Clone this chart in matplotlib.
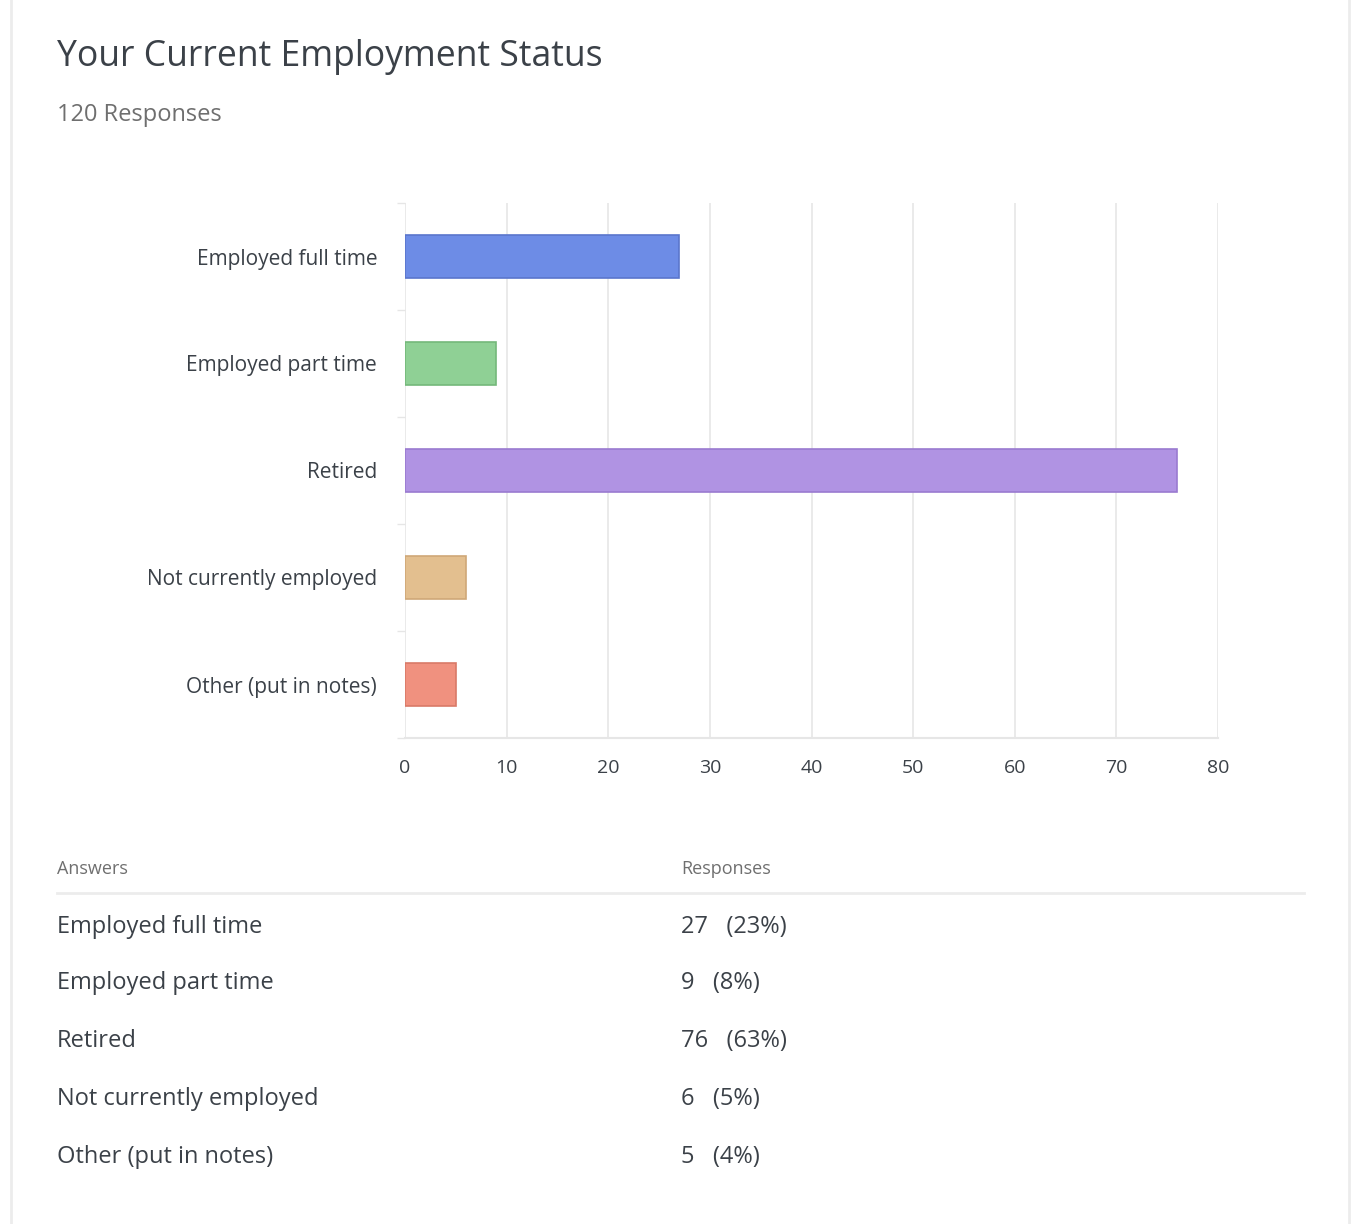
import matplotlib.pyplot as plt
from matplotlib.lines import Line2D

plt.rcParams['font.family'] = ['Open Sans', 'DejaVu Sans']

answers = ["Employed full time", "Employed part time", "Retired",
           "Not currently employed", "Other (put in notes)"]
counts = [27, 9, 76, 6, 5]
percents = ["23%", "8%", "63%", "5%", "4%"]
total_responses = 120
bar_colors = ["#6d8ce6", "#8fd095", "#b093e3", "#e3bf8f", "#f0917f"]
edge_colors = ["#5a76cc", "#74b87a", "#9a7ad0", "#cfa878", "#d97a68"]

W, H = 1351, 1224
fig = plt.figure(figsize=(W / 100, H / 100), dpi=100)
fig.patch.set_facecolor("white")

dark = "#3b4148"
grid_c = "#e6e6e6"

# card borders
for x in (11, 1349):
    fig.add_artist(Line2D([x / W, x / W], [0, 1], color="#ececec", lw=2))

fig.text(57 / W, 1 - 57 / H, "Your Current Employment Status", fontsize=25.6,
         color=dark, va="center", ha="left")
fig.text(57 / W, 1 - 115 / H, f"{total_responses} Responses", fontsize=17,
         color="#6f6f6f", va="center", ha="left")

ax = fig.add_axes([405 / W, 1 - 738 / H, (1218 - 405) / W, (738 - 203) / H])
y = list(range(len(answers)))
ax.barh(y, counts, height=0.4, color=bar_colors, edgecolor=edge_colors, lw=1.2, zorder=3)
ax.set_ylim(len(answers) - 0.5, -0.5)
ax.set_xlim(0, 80)
ax.set_xticks(range(0, 81, 10))
ax.set_yticks(y)
ax.set_yticklabels(answers, fontsize=15, color=dark)
ax.set_yticks([i - 0.5 for i in range(len(answers) + 1)], minor=True)
ax.tick_params(axis="y", which="major", length=0, pad=20)
ax.tick_params(axis="y", which="minor", length=6, color=grid_c, width=1)
ax.tick_params(axis="x", length=0, labelsize=14, labelcolor=dark, pad=15)
ax.grid(axis="x", color=grid_c, lw=1.2, zorder=0)
for s in ("top", "right"):
    ax.spines[s].set_visible(False)
ax.spines["left"].set_visible(False)
ax.spines["bottom"].set_color(grid_c)
ax.spines["bottom"].set_linewidth(1.5)

# table below
fig.text(57 / W, 1 - 869 / H, "Answers", fontsize=13, color="#6f6f6f", va="center")
fig.text(681 / W, 1 - 869 / H, "Responses", fontsize=13, color="#6f6f6f", va="center")
fig.add_artist(Line2D([57 / W, 1304 / W], [1 - 893 / H, 1 - 893 / H], color="#ececec", lw=2))
row_y = [927, 983, 1041, 1099, 1157]
for ry, a, c, p in zip(row_y, answers, counts, percents):
    fig.text(57 / W, 1 - ry / H, a, fontsize=17, color=dark, va="center")
    fig.text(681 / W, 1 - ry / H, f"{c}   ({p})", fontsize=17, color=dark, va="center")

fig.savefig("out.png", dpi=100, facecolor="white")
